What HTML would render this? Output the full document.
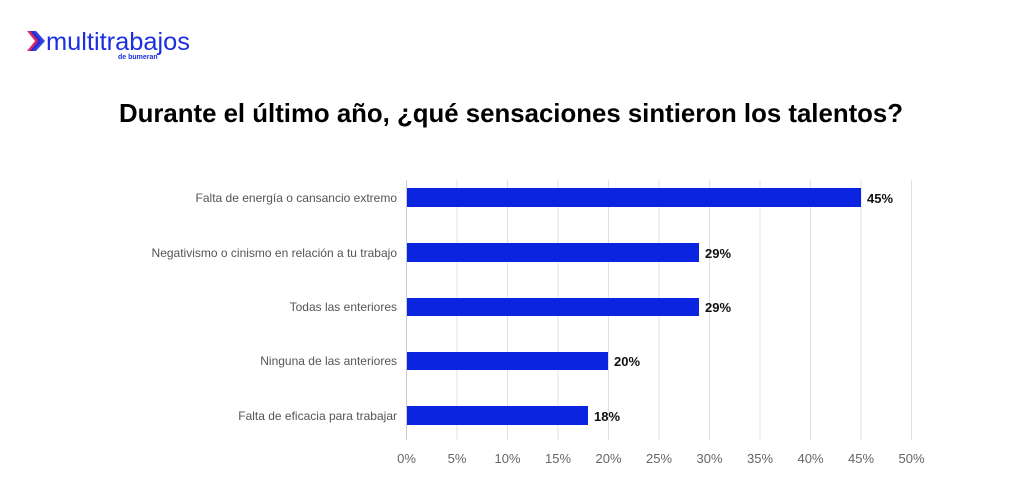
<!DOCTYPE html>
<html><head><meta charset="utf-8"><style>
body{margin:0;background:#fff;width:1024px;height:496px;overflow:hidden;font-family:"Liberation Sans",sans-serif}
</style></head><body>
<svg width="1024" height="496" xmlns="http://www.w3.org/2000/svg" font-family="Liberation Sans, sans-serif">
<polygon points="27,31 33,31 42,41 33,51 27,51 35,41" fill="#e8265e"/>
<polygon points="30,31 36,31 45,41 36,51 30,51 38,41" fill="#1a2fe0" opacity="0.9"/>
<text x="46" y="50" font-size="25" fill="#1a2fe0" textLength="144" lengthAdjust="spacingAndGlyphs">multitrabajos</text>
<text x="118" y="59" font-size="7" fill="#1a2fe0" font-weight="bold">de bumeran</text>
<text x="511" y="122" font-size="25.8" font-weight="bold" text-anchor="middle" fill="#000">Durante el último año, ¿qué sensaciones sintieron los talentos?</text>
<g stroke="#e0e0e0" stroke-width="1">
<line x1="457" y1="180" x2="457" y2="440"/><line x1="507.5" y1="180" x2="507.5" y2="440"/><line x1="558" y1="180" x2="558" y2="440"/><line x1="608.5" y1="180" x2="608.5" y2="440"/><line x1="659" y1="180" x2="659" y2="440"/><line x1="709.5" y1="180" x2="709.5" y2="440"/><line x1="760" y1="180" x2="760" y2="440"/><line x1="810.5" y1="180" x2="810.5" y2="440"/><line x1="861" y1="180" x2="861" y2="440"/><line x1="911.5" y1="180" x2="911.5" y2="440"/>
</g>
<line x1="406.5" y1="180" x2="406.5" y2="440" stroke="#ccc"/>
<g fill="#0a24e0">
<rect x="407" y="188" width="454" height="19"/>
<rect x="407" y="243" width="292" height="19"/>
<rect x="407" y="298" width="292" height="18"/>
<rect x="407" y="352" width="201" height="18"/>
<rect x="407" y="406" width="181" height="19"/>
</g>
<g font-size="12" fill="#555" text-anchor="end">
<text x="397" y="202">Falta de energía o cansancio extremo</text>
<text x="397" y="257">Negativismo o cinismo en relación a tu trabajo</text>
<text x="397" y="311">Todas las enteriores</text>
<text x="397" y="365">Ninguna de las anteriores</text>
<text x="397" y="420">Falta de eficacia para trabajar</text>
</g>
<g font-size="13" font-weight="bold" fill="#111">
<text x="867" y="203">45%</text>
<text x="705" y="258">29%</text>
<text x="705" y="312">29%</text>
<text x="614" y="366">20%</text>
<text x="594" y="421">18%</text>
</g>
<g font-size="13" fill="#666" text-anchor="middle">
<text x="406.5" y="463">0%</text><text x="457" y="463">5%</text><text x="507.5" y="463">10%</text><text x="558" y="463">15%</text><text x="608.5" y="463">20%</text><text x="659" y="463">25%</text><text x="709.5" y="463">30%</text><text x="760" y="463">35%</text><text x="810.5" y="463">40%</text><text x="861" y="463">45%</text><text x="911.5" y="463">50%</text>
</g>
</svg>
</body></html>
